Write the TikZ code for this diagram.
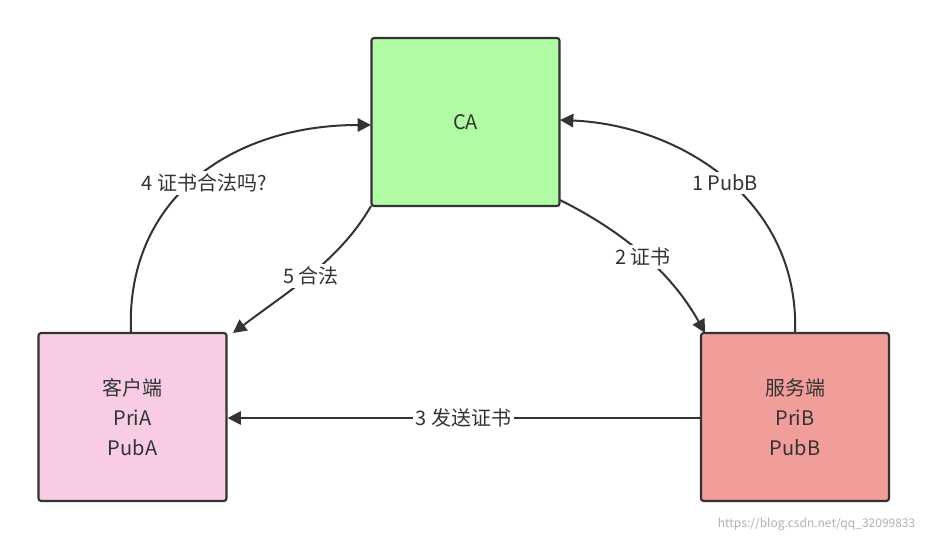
\documentclass[tikz,border=0pt]{standalone}
\usepackage{fontspec}
\setmainfont{Noto Sans CJK SC}
\usetikzlibrary{arrows.meta}
\definecolor{cagreen}{HTML}{B2FBA5}
\definecolor{clientpink}{HTML}{F8CDE4}
\definecolor{serverred}{HTML}{F19E9B}
\definecolor{edge}{HTML}{333333}
\begin{document}
\begin{tikzpicture}[x=0.75pt,y=-0.75pt,
  box/.style={draw=edge,line width=1.6pt,rounded corners=2pt,minimum width=141pt,minimum height=126pt,align=center,font=\fontsize{15}{22.5}\selectfont,text=edge},
  conn/.style={draw=edge,line width=1.5pt,-{Triangle[length=10pt,width=10pt]}},
  lab/.style={fill=white,inner sep=2pt,font=\fontsize{15}{17}\selectfont,text=edge}]
\useasboundingbox (0,0) rectangle (927,540);
\fill[white] (0,0) rectangle (927,540);
\node[box,fill=cagreen] (ca) at (465.5,122) {CA};
\node[box,fill=clientpink] (cl) at (132.5,417) {客户端\\PriA\\PubA};
\node[box,fill=serverred] (sv) at (795,417) {服务端\\PriB\\PubB};
\coordinate (c4) at (131,333);
\coordinate (a4) at (371,125);
\draw[conn] (c4) .. controls (125,200) and (230,125) .. (a4);
\node[lab] at (204,183) {4 证书合法吗?};
\coordinate (s5) at (371,206);
\coordinate (e5) at (233,333);
\draw[conn] (s5) .. controls (340,260) and (290,290) .. (e5);
\node[lab] at (311,276) {5 合法};
\coordinate (s2) at (560,200);
\coordinate (e2) at (705,333);
\draw[conn] (s2) .. controls (620,230) and (670,270) .. (e2);
\node[lab] at (643,257) {2 证书};
\coordinate (s1) at (795,333);
\coordinate (e1) at (560,120);
\draw[conn] (s1) .. controls (800,200) and (680,125) .. (e1);
\node[lab] at (725,183) {1 PubB};
\draw[conn] (sv.west |- 0,418) -- (cl.east |- 0,418) node[lab,pos=0.5] {3 发送证书};
\node[text=gray!60,font=\fontsize{9}{10}\selectfont,anchor=south east] at (920,535) {https://blog.csdn.net/qq\_32099833};
\end{tikzpicture}
\end{document}
